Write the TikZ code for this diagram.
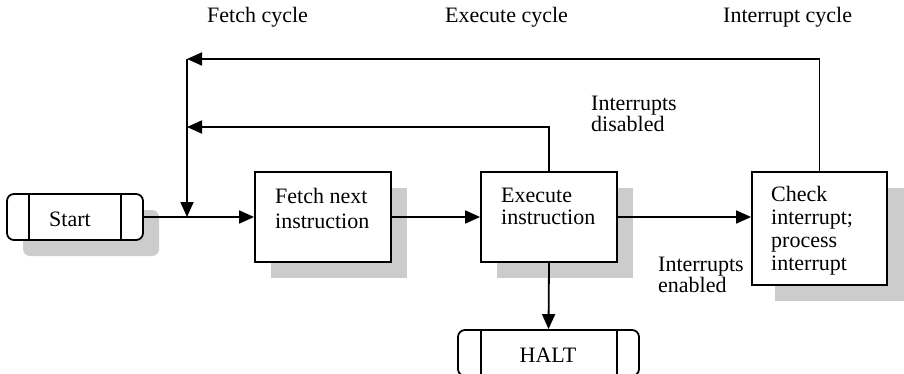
\documentclass[tikz,border=0pt]{standalone}
\usepackage{fontspec}
\setmainfont{Liberation Serif}
\usetikzlibrary{arrows.meta,shadows}
\begin{document}
\begin{tikzpicture}[x=1pt,y=-1pt,
  every node/.style={font=\fontsize{22}{23}\selectfont},
  lbl/.style={inner sep=0pt, anchor=base west, align=left},
  skip/.style={font=\fontsize{22}{#1}\selectfont},
  shadowed/.style={drop shadow={shadow xshift=#1, shadow yshift=-16pt, fill=black!20, opacity=1}},
  shadowed/.default=16pt,
  procbox/.style={draw, line width=1.8pt, fill=white, minimum width=136pt, inner sep=0pt},
  termbox/.style={draw, line width=1.8pt, fill=white, rounded corners=7pt, minimum height=46pt, inner sep=0pt},
  flow/.style={line width=1.8pt, -{Triangle[length=15pt,width=13pt]}},
  plain/.style={line width=1.8pt}
]
\useasboundingbox (0,0) rectangle (904,374);

% boxes
\node[termbox, shadowed, minimum width=136pt] (start) at (75,217) {};
\node[procbox, shadowed, minimum height=90pt] (fetch) at (323,217) {};
\node[procbox, shadowed, minimum height=90pt] (exec) at (549,217) {};
\node[procbox, shadowed=23pt, minimum width=135pt, minimum height=113pt] (check) at (819.5,228.5) {};
\node[termbox, minimum width=181pt] (halt) at (548.5,353) {};

% inner lines of terminators
\draw[plain] ([xshift=23pt]start.north west) -- ([xshift=23pt]start.south west);
\draw[plain] ([xshift=-23pt]start.north east) -- ([xshift=-23pt]start.south east);
\draw[plain] ([xshift=24pt]halt.north west) -- ([xshift=24pt]halt.south west);
\draw[plain] ([xshift=-23pt]halt.north east) -- ([xshift=-23pt]halt.south east);

% texts inside (anchor = baseline of the last line)
\node[inner sep=0pt, anchor=base] (starttxt) at (70,226) {Start};
\node[inner sep=0pt, anchor=base] (halttxt) at (548,362) {HALT};
\node[lbl, skip=25] (fetchtxt) at (275,228) {Fetch next\\instruction};
\node[lbl, skip=22] (exectxt) at (501,224) {Execute\\instruction};
\node[lbl, skip=22.7] (checktxt) at (771,270) {Check\\interrupt;\\process\\interrupt};

% labels
\node[lbl] (lfc) at (207,23) {Fetch cycle};
\node[lbl] (lec) at (445,23) {Execute cycle};
\node[lbl] (lic) at (723,23) {Interrupt cycle};
\node[lbl, skip=21] (ldis) at (591,132) {Interrupts\\disabled};
\node[lbl, skip=21] (len) at (658,292) {Interrupts\\enabled};

% connectors
\coordinate (join) at (187,217);
\coordinate (top1) at (187,59);
\coordinate (top2) at (187,127);
\draw[plain] (start.east) -- (join);
\draw[flow] (join) -- (fetch.west);
\draw[flow] (fetch.east) -- (exec.west);
\draw[flow] (exec.east) -- (exec.east -| check.west);
\draw[flow] (exec.south) -- (halt.north);
\draw[flow] (check.north) |- (top1);
\draw[flow] (exec.north) |- (top2);
\draw[flow] (top1) -- (join);
\end{tikzpicture}
\end{document}
